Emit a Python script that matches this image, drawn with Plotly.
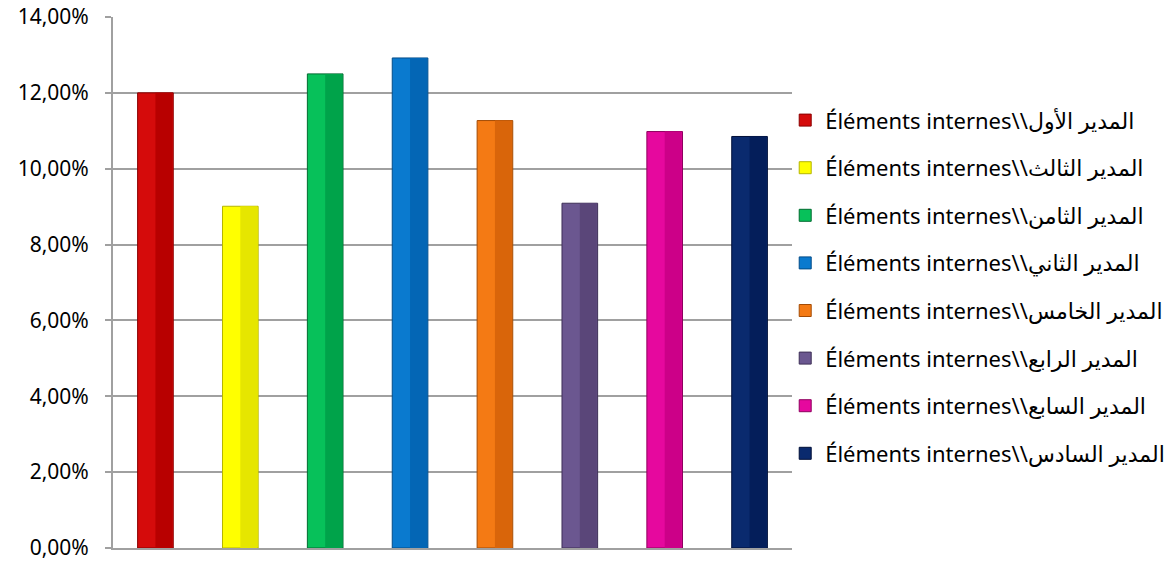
import plotly.graph_objects as go

categories = [
    "Éléments internes\\\\المدير الأول",
    "Éléments internes\\\\المدير الثالث",
    "Éléments internes\\\\المدير الثامن",
    "Éléments internes\\\\المدير الثاني",
    "Éléments internes\\\\المدير الخامس",
    "Éléments internes\\\\المدير الرابع",
    "Éléments internes\\\\المدير السابع",
    "Éléments internes\\\\المدير السادس",
]
values = [0.1200, 0.0901, 0.1250, 0.1292, 0.1127, 0.0909, 0.1098, 0.1085]
colors = ["#D50B0B", "#FFFF00", "#07C15A", "#0A7ACF", "#F47A14", "#6B5790", "#E6089E", "#0A2A6E"]
dark_colors = ["#B80000", "#E6E600", "#00A34A", "#0366B5", "#D9650A", "#5A4679", "#CC0088", "#041E5A"]
edge_colors = ["#8A0000", "#B5B500", "#006B30", "#034C88", "#A34B05", "#3E2F57", "#8F005F", "#000F38"]
y_ticks = [0, 0.02, 0.04, 0.06, 0.08, 0.10, 0.12, 0.14]

fig = go.Figure()
for i, (cat, v) in enumerate(zip(categories, values)):
    fig.add_trace(go.Bar(
        x=[i], y=[v], name=cat, width=0.42,
        marker=dict(color=colors[i], line=dict(color=edge_colors[i], width=1)),
        legendgroup=f"g{i}", showlegend=True,
    ))
for i, v in enumerate(values):
    fig.add_trace(go.Bar(
        x=[i], y=[v], width=0.2, offset=0,
        marker=dict(color=dark_colors[i], line=dict(width=0)),
        showlegend=False, hoverinfo="skip",
    ))

fig.update_layout(
    width=1170, height=562,
    margin=dict(l=113, r=378, t=17, b=14, autoexpand=False),
    barmode="overlay",
    separators=", ",
    paper_bgcolor="white", plot_bgcolor="white",
    font=dict(family="Noto Sans, DejaVu Sans, sans-serif", size=22, color="black"),
    showlegend=True,
    legend=dict(
        x=0.99, xanchor="left", y=0.845, yanchor="top",
        xref="paper", yref="paper",
        font=dict(size=22, family="Noto Sans, DejaVu Sans, sans-serif"),
        tracegroupgap=16, itemwidth=30,
        bgcolor="rgba(0,0,0,0)",
    ),
    xaxis=dict(
        range=[-0.5, 7.5], showticklabels=False, showgrid=False, automargin=False,
        showline=True, linecolor="#A0A0A0", linewidth=2, ticks="", zeroline=False,
    ),
    yaxis=dict(
        range=[0, 0.14], tickvals=y_ticks, tickformat=".2%", automargin=False,
        showgrid=True, gridcolor="#A0A0A0", gridwidth=2,
        showline=True, linecolor="#A0A0A0", linewidth=2,
        ticks="outside", ticklen=6, tickcolor="#A0A0A0", tickwidth=2,
        ticklabelstandoff=12, ticklabeloverflow="allow",
        zeroline=False, tickfont=dict(size=21),
    ),
)

fig.write_html("out.html")
